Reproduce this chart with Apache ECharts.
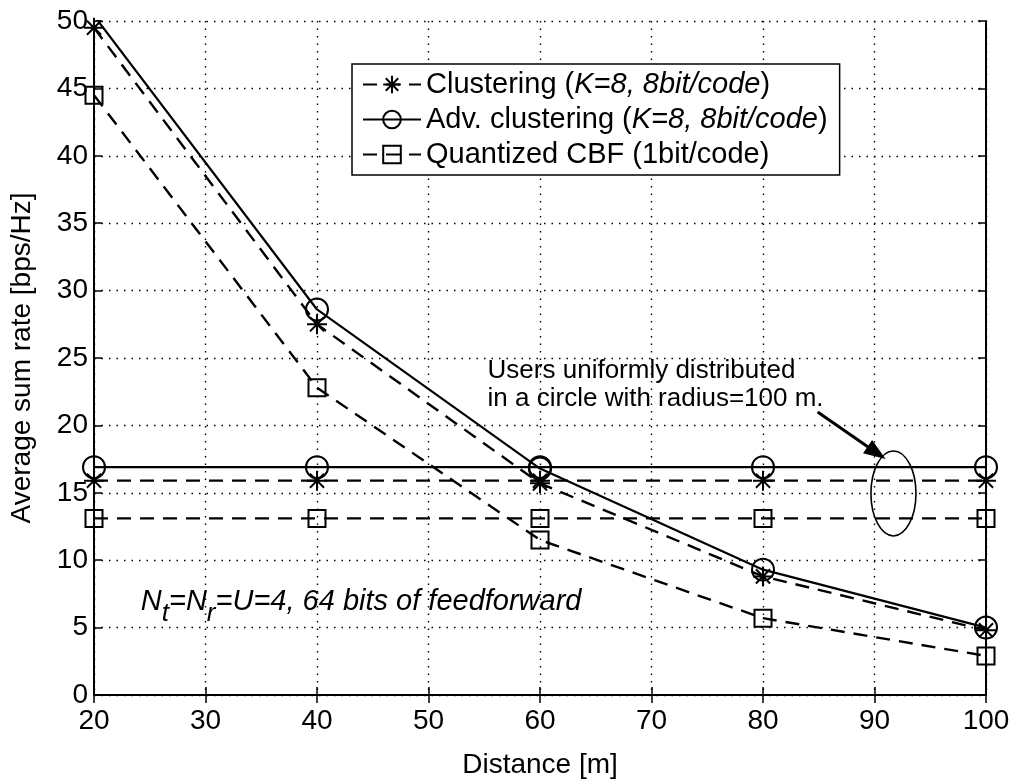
<!DOCTYPE html>
<html>
<head>
<meta charset="utf-8">
<script src="https://cdn.jsdelivr.net/npm/echarts@6/dist/echarts.min.js"></script>
<style>
  html, body { margin: 0; padding: 0; background: #fff; }
  #chart { width: 1015px; height: 784px; }
</style>
</head>
<body>
<div id="chart"></div>
<script>
// Distance from the base station [m]
const distances = [20, 40, 60, 80, 100];

// Sum rate when all users sit at the given distance [bps/Hz]
const clusteringNear = [49.5, 27.5, 15.7, 8.8, 4.8];
const advClusteringNear = [50.4, 28.6, 16.8, 9.3, 5.0];
const quantizedNear = [44.5, 22.8, 11.5, 5.7, 2.9];

// Sum rate with users uniformly spread in a 100 m circle [bps/Hz]
const clusteringUniform = [15.9, 15.9, 15.9, 15.9, 15.9];
const advClusteringUniform = [16.9, 16.9, 16.9, 16.9, 16.9];
const quantizedUniform = [13.1, 13.1, 13.1, 13.1, 13.1];

const xTicks = [20, 30, 40, 50, 60, 70, 80, 90, 100];
const yTicks = [0, 5, 10, 15, 20, 25, 30, 35, 40, 45, 50];

const FONT = '"Liberation Sans", Arial, Helvetica, sans-serif';
const ASTERISK = 'path://M10 0L10 20M0 10L20 10M2.93 2.93L17.07 17.07M2.93 17.07L17.07 2.93';

const pairs = v => distances.map((d, i) => [d, v[i]]);

const styles = {
  'Clustering': { symbol: ASTERISK, symbolSize: 20, dash: [14, 9], width: 2.4 },
  'Adv. clustering': { symbol: 'circle', symbolSize: 22, dash: 'solid', width: 2.2 },
  'Quantized CBF': { symbol: 'rect', symbolSize: 17, dash: [14, 9], width: 2.4 }
};

function makeSeries(name, values) {
  const s = styles[name];
  return {
    name: name,
    type: 'line',
    data: pairs(values),
    clip: true,
    symbol: s.symbol,
    symbolSize: s.symbolSize,
    showAllSymbol: true,
    lineStyle: { color: '#000', width: s.width, type: s.dash },
    itemStyle: { color: 'rgba(0,0,0,0)', borderColor: '#000', borderWidth: 2 },
    emphasis: { disabled: true },
    animation: false,
    z: 3
  };
}

const legendText = {
  'Clustering': '{n|Clustering (}{i|K=8, 8bit/code}{n|)}',
  'Adv. clustering': '{n|Adv. clustering (}{i|K=8, 8bit/code}{n|)}',
  'Quantized CBF': '{n|Quantized CBF (1bit/code)}'
};

const axisCommon = {
  axisLine: { show: true, lineStyle: { color: '#000', width: 2 } },
  axisTick: { show: true, inside: true, length: 8, lineStyle: { color: '#000', width: 1.5 } }
};

const gridDots = { show: true, lineStyle: { color: '#000', width: 1.4, type: [1.5, 6] } };

const chart = echarts.init(document.getElementById('chart'), null, { renderer: 'canvas' });

chart.setOption({
  animation: false,
  backgroundColor: '#fff',
  textStyle: { fontFamily: FONT },
  grid: { left: 93, right: 29, top: 21, bottom: 73, containLabel: false },
  xAxis: [
    Object.assign({}, axisCommon, {
      type: 'value', min: xTicks[0], max: xTicks[xTicks.length - 1], interval: 10,
      name: 'Distance [m]', nameLocation: 'middle', nameGap: 56,
      nameTextStyle: { color: '#000', fontSize: 28, fontFamily: FONT },
      axisLabel: { color: '#000', fontSize: 28, fontFamily: FONT, margin: 12 },
      splitLine: gridDots
    }),
    Object.assign({}, axisCommon, {
      type: 'value', position: 'top', min: xTicks[0], max: xTicks[xTicks.length - 1], interval: 10,
      axisLabel: { show: false }, splitLine: { show: false }
    })
  ],
  yAxis: [
    Object.assign({}, axisCommon, {
      type: 'value', min: yTicks[0], max: yTicks[yTicks.length - 1], interval: 5,
      name: 'Average sum rate [bps/Hz]', nameLocation: 'middle', nameGap: 58,
      nameTextStyle: { color: '#000', fontSize: 28, fontFamily: FONT },
      axisLabel: { color: '#000', fontSize: 28, fontFamily: FONT, margin: 6 },
      splitLine: gridDots
    }),
    Object.assign({}, axisCommon, {
      type: 'value', position: 'right', min: yTicks[0], max: yTicks[yTicks.length - 1], interval: 5,
      axisLabel: { show: false }, splitLine: { show: false }
    })
  ],
  legend: {
    data: ['Clustering', 'Adv. clustering', 'Quantized CBF'],
    orient: 'vertical',
    left: 352, top: 64,
    itemWidth: 58, itemHeight: 22, itemGap: 6,
    padding: [6, 12, 6, 10],
    backgroundColor: '#fff',
    borderColor: '#000', borderWidth: 1.5,
    selectedMode: false,
    formatter: name => legendText[name],
    textStyle: {
      color: '#000', fontFamily: FONT, fontSize: 29,
      rich: {
        n: { fontSize: 29, fontFamily: FONT, color: '#000' },
        i: { fontSize: 29, fontFamily: FONT, color: '#000', fontStyle: 'italic' }
      }
    },
    z: 10
  },
  series: [
    makeSeries('Clustering', clusteringNear),
    makeSeries('Adv. clustering', advClusteringNear),
    makeSeries('Quantized CBF', quantizedNear),
    makeSeries('Clustering', clusteringUniform),
    makeSeries('Adv. clustering', advClusteringUniform),
    makeSeries('Quantized CBF', quantizedUniform)
  ]
});

// Annotations placed in data coordinates
const px = (x, y) => chart.convertToPixel({ xAxisIndex: 0, yAxisIndex: 0 }, [x, y]);

const noteStart = px(55.3, 24.0);
const arrowFrom = px(84.9, 21.0);
const arrowTo = px(91.0, 17.5);
const ringTop = px(91.7, 18.1);
const ringBottom = px(91.7, 11.8);
const ringCx = ringTop[0];
const ringCy = (ringTop[1] + ringBottom[1]) / 2;
const paramPos = px(24.2, 6.7);

const ang = Math.atan2(arrowTo[1] - arrowFrom[1], arrowTo[0] - arrowFrom[0]);
const headLen = 22, headHalf = 8;
const base = [arrowTo[0] - headLen * Math.cos(ang), arrowTo[1] - headLen * Math.sin(ang)];
const head = [
  arrowTo,
  [base[0] + headHalf * Math.sin(ang), base[1] - headHalf * Math.cos(ang)],
  [base[0] - headHalf * Math.sin(ang), base[1] + headHalf * Math.cos(ang)]
];

chart.setOption({
  graphic: [
    {
      type: 'text', left: noteStart[0], top: noteStart[1] - 15, z: 20,
      style: {
        text: 'Users uniformly distributed\nin a circle with radius=100 m.',
        fill: '#000', font: '26px ' + FONT, lineHeight: 28
      }
    },
    {
      type: 'line', z: 20,
      shape: { x1: arrowFrom[0], y1: arrowFrom[1], x2: base[0] + 2 * Math.cos(ang), y2: base[1] + 2 * Math.sin(ang) },
      style: { stroke: '#000', lineWidth: 3 }
    },
    {
      type: 'polygon', z: 20,
      shape: { points: head },
      style: { fill: '#000' }
    },
    {
      type: 'ellipse', z: 20,
      shape: { cx: ringCx, cy: ringCy, rx: 22.5, ry: (ringBottom[1] - ringTop[1]) / 2 },
      style: { fill: 'none', stroke: '#000', lineWidth: 1.6 }
    },
    {
      type: 'text', left: paramPos[0], top: paramPos[1] - 17, z: 20,
      style: {
        text: '{m|N}{s|t}{m|=N}{s|r}{m|=U=4, 64 bits of feedforward}',
        rich: {
          m: { fontSize: 29, fontFamily: FONT, fontStyle: 'italic', fill: '#000', color: '#000' },
          s: { fontSize: 26, fontFamily: FONT, fontStyle: 'italic', fill: '#000', color: '#000', padding: [24, 0, 0, 0] }
        }
      }
    }
  ]
});
</script>
</body>
</html>
